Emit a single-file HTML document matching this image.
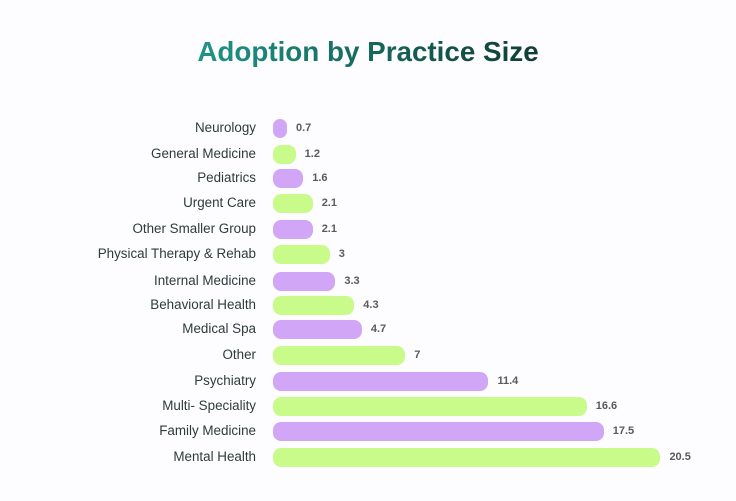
<!DOCTYPE html>
<html><head><style>
body{margin:0;width:736px;height:501px;background:#fdfcfe;font-family:"Liberation Sans",sans-serif;position:relative;overflow:hidden}
h1{position:absolute;top:35px;left:0;width:736px;text-align:center;margin:0;font-size:27.8px;font-weight:bold;line-height:34px;}
h1 span{background:linear-gradient(90deg,#1f9488,#0f3d33);-webkit-background-clip:text;background-clip:text;color:transparent}
.l{position:absolute;right:480px;font-size:13.4px;color:#2f3b3a;height:20px;line-height:20px;white-space:nowrap}
.b{position:absolute;left:273px;height:19px;border-radius:8px}
.v{position:absolute;font-size:11px;font-weight:bold;color:#5a5a5a;height:20px;line-height:20px}
</style></head><body>
<h1><span>Adoption by Practice Size</span></h1>
<div id="c"></div>
<script>
var d=[["Neurology",0.7],["General Medicine",1.2],["Pediatrics",1.6],["Urgent Care",2.1],["Other Smaller Group",2.1],["Physical Therapy & Rehab",3],["Internal Medicine",3.3],["Behavioral Health",4.3],["Medical Spa",4.7],["Other",7],["Psychiatry",11.4],["Multi- Speciality",16.6],["Family Medicine",17.5],["Mental Health",20.5]];
var ys=[128,154,178,203,229,254,281,305,329,355,381,406,431,457];
var h="";
d.forEach(function(r,i){var y=ys[i];var w=Math.max(14,r[1]*18.9);
h+='<div class="l" style="top:'+(y-10)+'px">'+r[0].replace("&","&amp;")+'</div>';
h+='<div class="b" style="top:'+(y-9.5)+'px;width:'+w+'px;background:'+(i%2?'#c8fb8a':'#d2a6f7')+'"></div>';
h+='<div class="v" style="top:'+(y-10)+'px;left:'+(273+w+9)+'px">'+r[1]+'</div>';});
document.getElementById("c").innerHTML=h;
</script>
</body></html>
